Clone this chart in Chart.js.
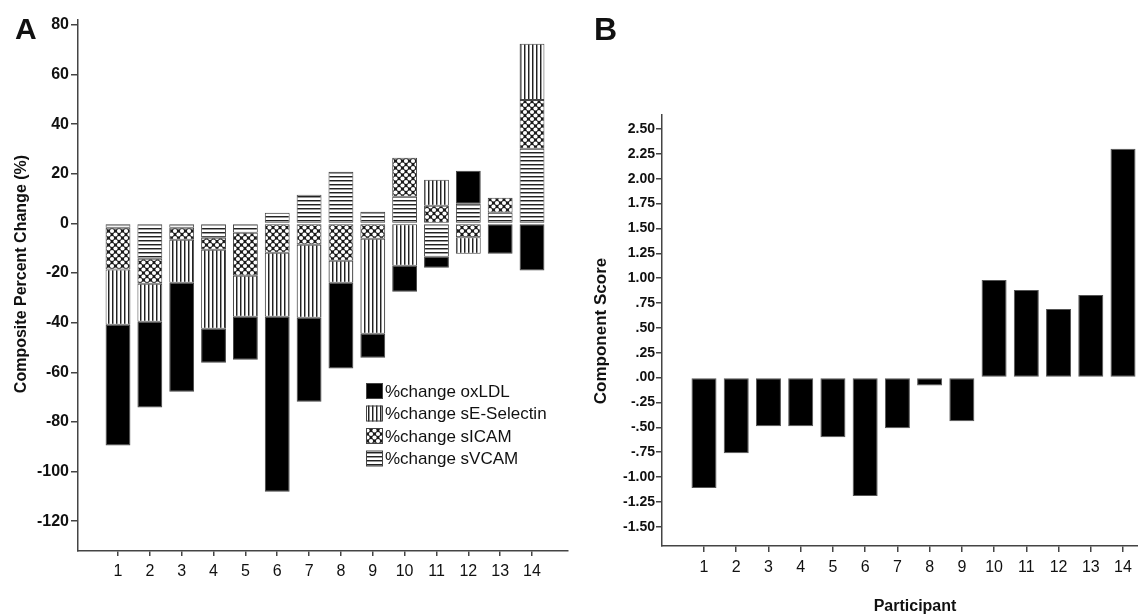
<!DOCTYPE html>
<html>
<head>
<meta charset="utf-8">
<script src="https://cdn.jsdelivr.net/npm/chart.js@4.4.1/dist/chart.umd.min.js"></script>
<style>
  html, body { margin: 0; padding: 0; background: #fff; }
  body { width: 1138px; height: 614px; position: relative; overflow: hidden; font-family: "Liberation Sans", Arial, sans-serif; }
  canvas { position: absolute; top: 0; }
  #chartA { left: 0; }
  #chartB { left: 575px; }
  .lbl { position: absolute; font-weight: bold; color: #111; white-space: nowrap; line-height: 1; }
  .rot { transform: translate(-50%, -50%) rotate(-90deg); }
</style>
</head>
<body>
<canvas id="chartA" width="580" height="614"></canvas>
<canvas id="chartB" width="563" height="614"></canvas>

<div class="lbl" style="left:15px; top:14px; font-size:30px;">A</div>
<div class="lbl" style="left:594px; top:13px; font-size:32px;">B</div>
<div class="lbl rot" style="left:21px; top:274px; font-size:16px;">Composite Percent Change (%)</div>
<div class="lbl rot" style="left:600px; top:331px; font-size:17px;">Component Score</div>
<div class="lbl" style="left:915px; top:606px; font-size:16px; transform: translate(-50%, -50%);">Participant</div>

<script>
// panel A: composite percent change per participant
const participants = [1, 2, 3, 4, 5, 6, 7, 8, 9, 10, 11, 12, 13, 14];
const oxLDL      = [-48.7, -34.6, -43.9, -13.7, -17.3, -70.5, -33.8, -34.6, -9.7, -10.5, -4.4, 13.3, -12.2, -19.0];
const sESelectin = [-22.2, -15.3, -17.3, -31.8, -16.5, -25.8, -29.4, -8.9, -38.2, -17.0, 10.5, -6.6, 0, 22.6];
const sICAM      = [-16.9, -10.1, -4.9, -4.8, -17.4, -11.8, -8.6, -15.0, -6.2, 15.7, 7.1, -5.6, 6.1, 19.7];
const sVCAM      = [-1.7, -14.2, -1.7, -5.8, -3.7, 4.3, 11.6, 20.8, 4.7, 10.8, -13.4, 7.9, 4.3, 30.1];
const yTicksA = [-120, -100, -80, -60, -40, -20, 0, 20, 40, 60, 80];

// panel B: component score per participant
const componentScore = [-1.11, -0.76, -0.49, -0.49, -0.60, -1.19, -0.51, -0.08, -0.44, 0.98, 0.88, 0.69, 0.83, 2.30];
const yTicksB = [-1.5, -1.25, -1, -0.75, -0.5, -0.25, 0, 0.25, 0.5, 0.75, 1, 1.25, 1.5, 1.75, 2, 2.25, 2.5];

Chart.defaults.font.family = '"Liberation Sans", Arial, sans-serif';
Chart.defaults.color = '#111';

function makePattern(kind) {
  const c = document.createElement('canvas');
  const g = c.getContext('2d');
  if (kind === 'vertical') {
    c.width = 4; c.height = 4;
    g.fillStyle = '#fff'; g.fillRect(0, 0, 4, 4);
    g.fillStyle = '#222'; g.fillRect(0, 0, 1, 4);
    g.fillStyle = '#999'; g.fillRect(1, 0, 1, 4);
  } else if (kind === 'horizontal') {
    c.width = 4; c.height = 4;
    g.fillStyle = '#fff'; g.fillRect(0, 0, 4, 4);
    g.fillStyle = '#222'; g.fillRect(0, 0, 4, 1);
    g.fillStyle = '#999'; g.fillRect(0, 1, 4, 1);
  } else {
    // crosshatch with round holes
    c.width = 7; c.height = 7;
    g.fillStyle = '#1a1a1a'; g.fillRect(0, 0, 7, 7);
    g.fillStyle = '#fff';
    [[0, 0], [7, 0], [0, 7], [7, 7], [3.5, 3.5]].forEach(p => {
      g.beginPath(); g.arc(p[0], p[1], 2.1, 0, Math.PI * 2); g.fill();
    });
  }
  return g.createPattern(c, 'repeat');
}

const toPoints = arr => participants.map((p, i) => ({ x: p, y: arr[i] }));
const setTicks = list => scale => { scale.ticks = list.map(v => ({ value: v })); };

const legendPlugin = {
  id: 'boxLegend',
  afterDraw(chart) {
    const ctx = chart.ctx;
    const items = chart.data.datasets.slice().reverse();
    ctx.save();
    ctx.font = '17px "Liberation Sans", Arial, sans-serif';
    ctx.textBaseline = 'middle';
    items.forEach((ds, i) => {
      const x = 366, y = 383 + i * 22.5;
      ctx.fillStyle = ds.backgroundColor;
      ctx.fillRect(x, y, 17, 16);
      ctx.strokeStyle = '#444';
      ctx.lineWidth = 1;
      ctx.strokeRect(x + 0.5, y + 0.5, 16, 15);
      ctx.fillStyle = '#111';
      ctx.fillText(ds.label, x + 19, y + 9);
    });
    ctx.restore();
  }
};

const axisStyle = {
  grid: { offset: false, drawOnChartArea: false, drawTicks: true, color: '#444', lineWidth: 1.5 },
  border: { display: true, color: '#444', width: 1.5 }
};

new Chart(document.getElementById('chartA'), {
  type: 'bar',
  data: {
    datasets: [
      { label: '%change sVCAM', data: toPoints(sVCAM), backgroundColor: makePattern('horizontal') },
      { label: '%change sICAM', data: toPoints(sICAM), backgroundColor: makePattern('cross') },
      { label: '%change sE-Selectin', data: toPoints(sESelectin), backgroundColor: makePattern('vertical') },
      { label: '%change oxLDL', data: toPoints(oxLDL), backgroundColor: '#000' }
    ].map(ds => Object.assign(ds, { borderColor: '#444', borderWidth: 1, borderSkipped: false, barPercentage: 0.78, categoryPercentage: 1 }))
  },
  options: {
    responsive: false,
    animation: false,
    layout: { padding: { top: 20, right: 12, left: 0, bottom: 0 } },
    plugins: { legend: { display: false }, tooltip: { enabled: false } },
    scales: {
      x: {
        type: 'linear', stacked: true, offset: false, min: -0.256, max: 15.13,
        afterBuildTicks: setTicks(participants),
        afterFit: s => { s.height = 63; },
        grid: Object.assign({}, axisStyle.grid, { tickLength: 5 }),
        border: axisStyle.border,
        ticks: { font: { size: 16 }, padding: 6, autoSkip: false, maxRotation: 0 }
      },
      y: {
        stacked: true, min: -132, max: 82,
        afterBuildTicks: setTicks(yTicksA),
        afterFit: s => { s.width = 78; },
        grid: Object.assign({}, axisStyle.grid, { tickLength: 7 }),
        border: axisStyle.border,
        ticks: { font: { size: 16, weight: 'bold' }, padding: 2 }
      }
    }
  },
  plugins: [legendPlugin]
});

const fmtScore = v => {
  const s = Math.abs(v).toFixed(2).replace(/^0/, '');
  return (v < 0 ? '-' : '') + s;
};

new Chart(document.getElementById('chartB'), {
  type: 'bar',
  data: {
    datasets: [{
      label: 'Component Score',
      data: toPoints(componentScore),
      backgroundColor: '#000',
      borderColor: '#555',
      borderWidth: 1,
      borderSkipped: false,
      barPercentage: 0.776,
      categoryPercentage: 1
    }]
  },
  options: {
    responsive: false,
    animation: false,
    layout: { padding: { top: 115, right: 0, left: 0, bottom: 0 } },
    plugins: { legend: { display: false }, tooltip: { enabled: false } },
    scales: {
      x: {
        type: 'linear', offset: false, min: -0.303, max: 14.465,
        afterBuildTicks: setTicks(participants),
        afterFit: s => { s.height = 68; },
        grid: Object.assign({}, axisStyle.grid, { tickLength: 6 }),
        border: axisStyle.border,
        ticks: { font: { size: 16 }, padding: 6, autoSkip: false, maxRotation: 0 }
      },
      y: {
        min: -1.693, max: 2.64,
        afterBuildTicks: setTicks(yTicksB),
        afterFit: s => { s.width = 87; },
        grid: Object.assign({}, axisStyle.grid, { tickLength: 6 }),
        border: axisStyle.border,
        ticks: { font: { size: 14, weight: 'bold' }, padding: 1, callback: v => fmtScore(v) }
      }
    }
  }
});
</script>
</body>
</html>
